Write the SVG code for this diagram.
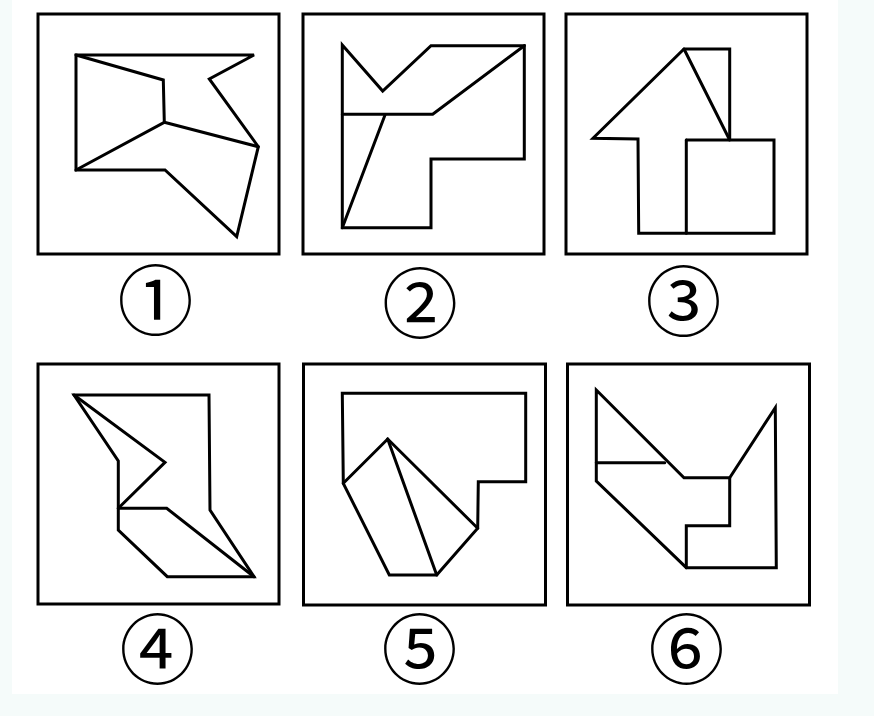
<svg xmlns="http://www.w3.org/2000/svg" width="874" height="716" viewBox="0 0 874 716">
<style>
.frame{fill:none;stroke:#000;stroke-width:3}
.shape{fill:none;stroke:#000;stroke-width:3;stroke-linejoin:miter;stroke-linecap:round}
.lbl{font-family:"DejaVu Serif","Noto Sans CJK SC",serif;font-size:76px;text-anchor:middle;fill:#000}
</style>
<rect x="0" y="0" width="874" height="716" fill="#f5fbfa"/>
<rect x="12" y="0" width="826" height="694" fill="#ffffff"/>
<g id="panel1">
<rect class="frame" x="38" y="14" width="241" height="240"/>
<polygon class="shape" points="76,55 254,55 209.3,79 258.3,146.7 236.7,236.7 165,170 76,170"/>
<polyline class="shape" points="76,55 163.3,80 164.3,122.3 76,170"/>
<line class="shape" x1="164.3" y1="122.3" x2="258.3" y2="146.7"/>
<text class="lbl" x="155.5" y="329">①</text>
</g>
<g id="panel2">
<rect class="frame" x="303" y="14" width="241" height="240"/>
<polygon class="shape" points="342.3,45 382.7,91 431,45.7 524.3,45.7 524.3,159 431,159 431,227.7 342.3,227.7"/>
<polyline class="shape" points="342.3,114.3 432.7,114.3 524.3,45.7"/>
<line class="shape" x1="385" y1="115" x2="342.3" y2="227.7"/>
<text class="lbl" x="420" y="332">②</text>
</g>
<g id="panel3">
<rect class="frame" x="566" y="14" width="241" height="240"/>
<polyline class="shape" points="686.3,140 774,140 774,233.3 638.7,233.3 638,139 593,138.3 684,49 729.7,49 729.7,140"/>
<line class="shape" x1="686.3" y1="140" x2="686.3" y2="233.3"/>
<line class="shape" x1="684" y1="49" x2="729.7" y2="140"/>
<text class="lbl" x="683.5" y="330">③</text>
</g>
<g id="panel4">
<rect class="frame" x="38" y="364" width="241" height="240"/>
<polygon class="shape" points="74,395 209,395 210,510 254,576.7 167.3,576.7 118.3,530 118.3,508.3 118.3,461"/>
<polyline class="shape" points="74,395 165,462.3 118.3,508.3"/>
<polyline class="shape" points="118.3,508.3 166.7,508.3 254,576.7"/>
<text class="lbl" x="157.5" y="678">④</text>
</g>
<g id="panel5">
<rect class="frame" x="303.5" y="364" width="242" height="241"/>
<polygon class="shape" points="342.3,393.3 525.7,393.3 525.7,481.7 478.3,481.7 477.7,528.3 436.7,575 389.3,575 343.3,483.3"/>
<polyline class="shape" points="343.3,483.3 387.7,439 477.7,528.3"/>
<line class="shape" x1="387.7" y1="439" x2="436.7" y2="575"/>
<text class="lbl" x="419.5" y="678">⑤</text>
</g>
<g id="panel6">
<rect class="frame" x="567.5" y="364" width="242" height="241"/>
<polygon class="shape" points="596.3,390 684,477.7 729.7,477.7 775.3,407.7 776.3,567.7 686.3,567.7 596.3,481"/>
<polyline class="shape" points="729.7,477.7 729.7,525.7 686.3,525.7 686.3,567.7"/>
<line class="shape" x1="596.3" y1="462.7" x2="664.7" y2="462.7"/>
<text class="lbl" x="686.5" y="678">⑥</text>
</g>
<g id="connectors"/>
</svg>
